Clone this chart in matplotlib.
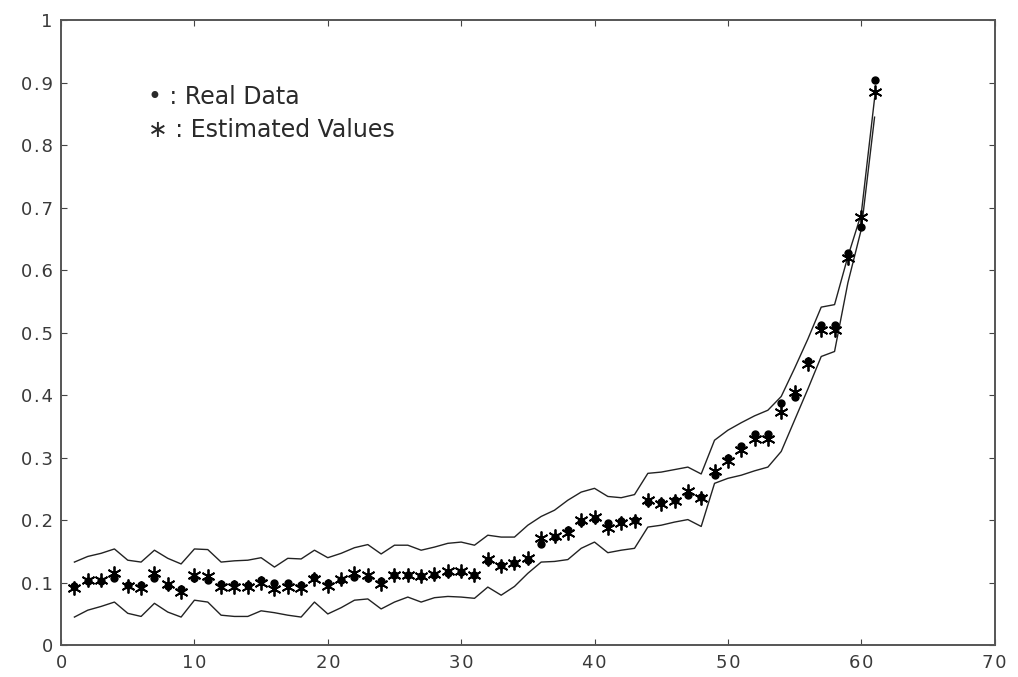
import numpy as np
import matplotlib
matplotlib.use("Agg")
import matplotlib.pyplot as plt
from matplotlib.ticker import FuncFormatter

# sample index 1..61
idx = np.arange(1, 62)

real_data = [
    0.095, 0.102, 0.103, 0.108, 0.097, 0.097, 0.107, 0.095, 0.090, 0.107,
    0.105, 0.098, 0.098, 0.097, 0.104, 0.099, 0.099, 0.097, 0.109, 0.099,
    0.104, 0.109, 0.107, 0.102, 0.112, 0.113, 0.110, 0.112, 0.115, 0.117,
    0.113, 0.135, 0.128, 0.131, 0.136, 0.162, 0.173, 0.185, 0.197, 0.202,
    0.195, 0.198, 0.200, 0.229, 0.229, 0.233, 0.240, 0.237, 0.272, 0.300,
    0.318, 0.338, 0.338, 0.387, 0.397, 0.455, 0.513, 0.513, 0.627, 0.670,
    0.905,
]

estimated = [
    0.092, 0.105, 0.105, 0.115, 0.095, 0.092, 0.115, 0.098, 0.085, 0.112,
    0.110, 0.093, 0.093, 0.093, 0.100, 0.090, 0.093, 0.092, 0.106, 0.095,
    0.106, 0.115, 0.112, 0.098, 0.112, 0.112, 0.110, 0.114, 0.119, 0.119,
    0.112, 0.138, 0.126, 0.131, 0.140, 0.172, 0.175, 0.180, 0.200, 0.205,
    0.187, 0.195, 0.198, 0.232, 0.226, 0.230, 0.247, 0.236, 0.278, 0.295,
    0.312, 0.330, 0.330, 0.373, 0.405, 0.450, 0.505, 0.505, 0.620, 0.686,
    0.885,
]

upper_band = [
    0.133, 0.142, 0.147, 0.154, 0.136, 0.133, 0.152, 0.139, 0.130, 0.154,
    0.153, 0.133, 0.135, 0.136, 0.140, 0.125, 0.139, 0.138, 0.152, 0.140,
    0.147, 0.156, 0.161, 0.146, 0.160, 0.160, 0.152, 0.157, 0.163, 0.165,
    0.160, 0.176, 0.173, 0.173, 0.192, 0.206, 0.216, 0.232, 0.245, 0.251,
    0.238, 0.236, 0.241, 0.275, 0.277, 0.281, 0.285, 0.274, 0.328, 0.344,
    0.356, 0.367, 0.376, 0.398, 0.443, 0.490, 0.541, 0.545, 0.622, 0.690,
    0.875,
]

lower_band = [
    0.045, 0.056, 0.062, 0.069, 0.051, 0.046, 0.067, 0.053, 0.045, 0.072,
    0.069, 0.048, 0.046, 0.046, 0.055, 0.052, 0.048, 0.045, 0.069, 0.050,
    0.060, 0.072, 0.074, 0.058, 0.069, 0.077, 0.069, 0.076, 0.078, 0.077,
    0.075, 0.093, 0.080, 0.094, 0.115, 0.133, 0.134, 0.137, 0.155, 0.165,
    0.148, 0.152, 0.155, 0.189, 0.192, 0.197, 0.201, 0.190, 0.259, 0.267,
    0.272, 0.279, 0.285, 0.310, 0.360, 0.410, 0.462, 0.470, 0.580, 0.665,
    0.845,
]

x_ticks = np.arange(0, 71, 10)
y_ticks = np.round(np.arange(0, 1.01, 0.1), 1)


def spaced(s):
    # the original tick font is wide, so pad the glyphs a little
    return "\u200a".join(s)


def y_fmt(v, pos):
    if v == 0:
        return "0"
    if v == 1:
        return "1"
    return spaced(f"{v:.1f}")


fig = plt.figure(figsize=(10.18, 6.77), dpi=100)
ax = fig.add_axes([0.060, 0.047, 0.917, 0.923])

ax.plot(idx, upper_band, color="#222222", linewidth=1.0)
ax.plot(idx, lower_band, color="#222222", linewidth=1.0)
ax.plot(idx, real_data, linestyle="none", marker="o", markersize=5,
        color="black")
ax.plot(idx, estimated, linestyle="none", marker=(6, 2, 0), markersize=10,
        color="black", markeredgewidth=1.3)

ax.set_xlim(0, 70)
ax.set_ylim(0, 1)
ax.set_xticks(x_ticks)
ax.set_yticks(y_ticks)
ax.xaxis.set_major_formatter(FuncFormatter(lambda v, p: spaced(f"{v:.0f}")))
ax.yaxis.set_major_formatter(FuncFormatter(y_fmt))
ax.tick_params(direction="in", length=4, top=True, right=True,
               labelsize=13, labelcolor="#3a3a3a", color="#444444", pad=6)
for s in ax.spines.values():
    s.set_color("#555555")
    s.set_linewidth(1.4)

# legend drawn as plain text, as in the original
ax.text(6.5, 0.877, "\u2022 : Real Data", fontsize=17, color="#2a2a2a",
        va="center", ha="left")
ax.text(6.5, 0.824, "\u2217 : Estimated Values", fontsize=17, color="#2a2a2a",
        va="center", ha="left")

fig.savefig("out.png", dpi=100)
